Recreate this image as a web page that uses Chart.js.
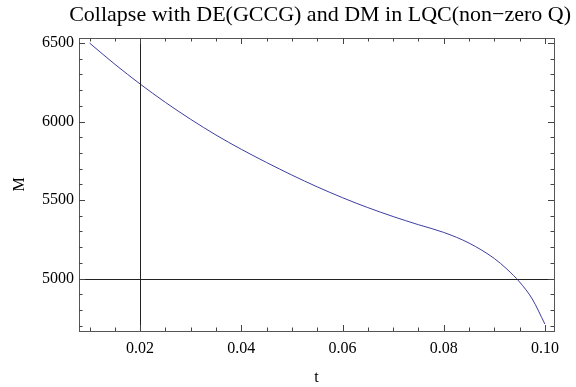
<!DOCTYPE html>
<html><head><meta charset="utf-8">
<script src="https://cdn.jsdelivr.net/npm/chart.js@4.4.0/dist/chart.umd.min.js"></script>
<style>html,body{margin:0;padding:0;background:#fff}#wrap{width:576px;height:387px}</style>
</head><body><div id="wrap"><canvas id="c" width="576" height="387"></canvas></div>
<script>
const tValues = [0.01,0.015,0.02,0.025,0.03,0.035,0.04,0.045,0.05,0.055,0.06,0.065,0.07,0.075,0.08,0.085,0.09,0.0925,0.095,0.0975,0.1];
const mValues = [6500,6365,6239,6122,6014,5914,5823,5739,5659,5584,5515,5452,5395,5343,5294,5226,5128,5060,4978,4870,4710];
const xTicks = [0.02,0.04,0.06,0.08,0.10];
const xTickLabels = ['0.02','0.04','0.06','0.08','0.10'];
const yTicks = [5000,5500,6000,6500];
const xMinor = [0.01,0.015,0.025,0.03,0.035,0.045,0.05,0.055,0.065,0.07,0.075,0.085,0.09,0.095];
const yMinor = [4700,4800,4900,5100,5200,5300,5400,5600,5700,5800,5900,6100,6200,6300,6400];
const axisCross = {t:0.02, M:5000};
const titleText = 'Collapse with DE(GCCG) and DM in LQC(non\u2212zero Q)';

const FONT = '"Liberation Serif", "Times New Roman", serif';

const framePlugin = {
  id:'frame',
  afterDatasetsDraw(chart){
    const {ctx, chartArea:a, scales:{x,y}} = chart;
    ctx.save();
    ctx.strokeStyle = '#222'; ctx.lineWidth = 1;
    const ax = Math.round(x.getPixelForValue(axisCross.t))+0.5;
    const ay = Math.round(y.getPixelForValue(axisCross.M))+0.5;
    ctx.beginPath();
    ctx.moveTo(ax, a.top); ctx.lineTo(ax, a.bottom);
    ctx.moveTo(a.left, ay); ctx.lineTo(a.right, ay);
    ctx.stroke();
    ctx.strokeStyle = '#555';
    ctx.strokeRect(Math.round(a.left)+0.5, Math.round(a.top)+0.5, Math.round(a.right-a.left), Math.round(a.bottom-a.top));
    ctx.strokeStyle = '#444';
    ctx.beginPath();
    const tx = (v,len)=>{const p=Math.round(x.getPixelForValue(v))+0.5;
      ctx.moveTo(p,a.bottom); ctx.lineTo(p,a.bottom-len);
      ctx.moveTo(p,a.top); ctx.lineTo(p,a.top+len);};
    const ty = (v,len)=>{const p=Math.round(y.getPixelForValue(v))+0.5;
      ctx.moveTo(a.left,p); ctx.lineTo(a.left+len,p);
      ctx.moveTo(a.right,p); ctx.lineTo(a.right-len,p);};
    xTicks.forEach(v=>tx(v,6)); xMinor.forEach(v=>tx(v,3.5));
    yTicks.forEach(v=>ty(v,6)); yMinor.forEach(v=>ty(v,3.5));
    ctx.stroke();
    ctx.fillStyle = '#000';
    ctx.font = '22px ' + FONT;
    ctx.textAlign = 'right'; ctx.textBaseline = 'alphabetic';
    ctx.fillText(titleText, 571, 21);
    ctx.restore();
  }
};

new Chart(document.getElementById('c'), {
  type:'line',
  data:{ datasets:[{ data: tValues.map((t,i)=>({x:t,y:mValues[i]})),
    borderColor:'#3d3d9f', borderWidth:1, pointRadius:0, fill:false,
    cubicInterpolationMode:'monotone' }]},
  options:{
    responsive:false, animation:false, devicePixelRatio:1,
    layout:{padding:{top:38,right:22,left:0,bottom:0}},
    plugins:{legend:{display:false}, tooltip:{enabled:false}, title:{display:false}},
    scales:{
      x:{ type:'linear', min:0.00792, max:0.1018,
        afterBuildTicks: s=>{ s.ticks = xTicks.map(v=>({value:v})); },
        afterFit: s=>{ s.height = 56; },
        grid:{display:false, drawTicks:false}, border:{display:false},
        ticks:{ padding:8, color:'#000', font:{family:FONT,size:16}, maxRotation:0,
          callback:(v)=>{const i=xTicks.indexOf(v); return i>=0?xTickLabels[i]:'';} },
        title:{display:true, text:'t', color:'#000', font:{family:FONT,size:16}, padding:{top:2,bottom:0}} },
      y:{ type:'linear', min:4666, max:6532,
        afterBuildTicks: s=>{ s.ticks = yTicks.map(v=>({value:v})); },
        afterFit: s=>{ s.width = 79; },
        grid:{display:false, drawTicks:false}, border:{display:false},
        ticks:{ padding:5, color:'#000', font:{family:FONT,size:16}, callback:v=>String(v) },
        title:{display:true, text:'M', color:'#000', font:{family:FONT,size:16}, padding:{top:10,bottom:4}} }
    }
  },
  plugins:[framePlugin]
});
</script></body></html>
